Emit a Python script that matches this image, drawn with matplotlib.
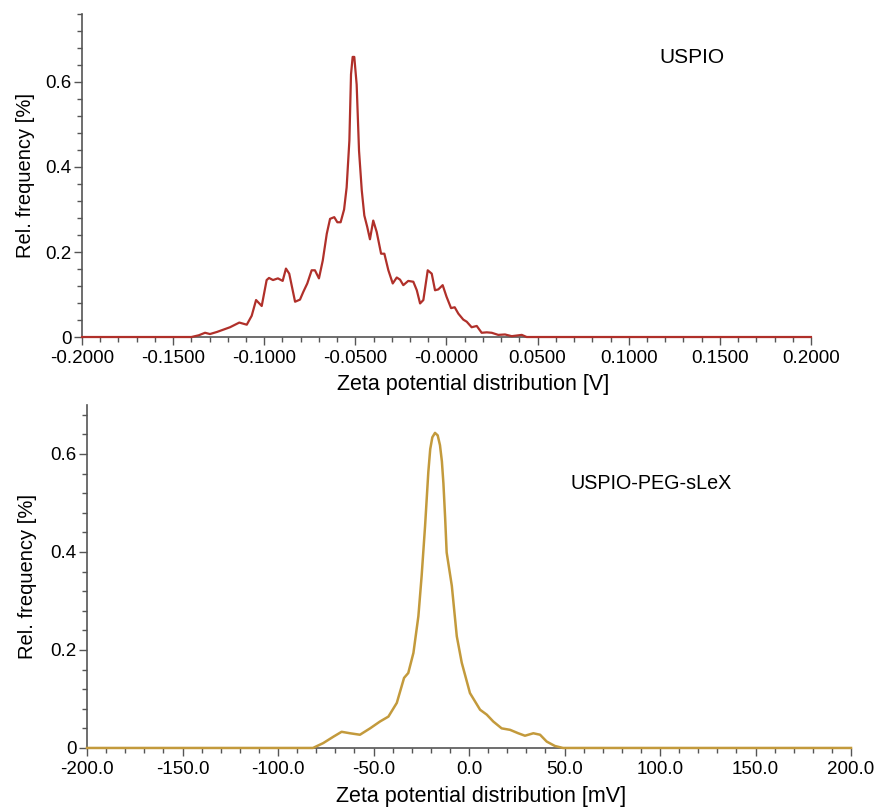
import numpy as np
import matplotlib; matplotlib.use("Agg"); import matplotlib.pyplot as plt
from matplotlib.ticker import MultipleLocator

plt.rcParams["font.family"] = ["Liberation Sans", "DejaVu Sans"]
RED = "#b0302a"; GOLD = "#c39a3c"; SPINE = "#555555"

# ---- USPIO, zeta potential in V ----
top_x = [-0.2000, -0.1400, -0.1360, -0.1325, -0.1298, -0.1259, -0.1188, -0.1137, -0.1096,
         -0.1069, -0.1045, -0.1014, -0.0987, -0.0974, -0.0952, -0.0925, -0.0899, -0.0881,
         -0.0863, -0.0831, -0.0804, -0.0786, -0.0764, -0.0740, -0.0722, -0.0700, -0.0679,
         -0.0657, -0.0639, -0.0616, -0.0599, -0.0581, -0.0562, -0.0548, -0.0533, -0.0524,
         -0.0515, -0.0506, -0.0493, -0.0480, -0.0465, -0.0451, -0.0435, -0.0420, -0.0402,
         -0.0383, -0.0359, -0.0341, -0.0319, -0.0295, -0.0273, -0.0255, -0.0237, -0.0210,
         -0.0182, -0.0163, -0.0145, -0.0127, -0.0103, -0.0081, -0.0063, -0.0045, -0.0021,
         0.0000, 0.0025, 0.0045, 0.0065, 0.0092, 0.0111, 0.0138, 0.0166, 0.0193, 0.0221,
         0.0248, 0.0284, 0.0321, 0.0358, 0.0413, 0.0440, 0.2000]
top_y = [0.000, 0.000, 0.004, 0.010, 0.007, 0.012, 0.023, 0.034, 0.029,
         0.050, 0.087, 0.073, 0.134, 0.139, 0.134, 0.138, 0.132, 0.161,
         0.149, 0.083, 0.088, 0.106, 0.126, 0.157, 0.157, 0.138, 0.180,
         0.243, 0.278, 0.282, 0.270, 0.270, 0.300, 0.352, 0.462, 0.618,
         0.659, 0.659, 0.594, 0.438, 0.345, 0.286, 0.259, 0.230, 0.274,
         0.247, 0.196, 0.196, 0.157, 0.126, 0.140, 0.135, 0.122, 0.132,
         0.130, 0.110, 0.079, 0.087, 0.157, 0.149, 0.110, 0.112, 0.122,
         0.095, 0.068, 0.070, 0.055, 0.041, 0.036, 0.023, 0.026, 0.010, 0.011,
         0.010, 0.005, 0.006, 0.002, 0.005, 0.000, 0.000]
top_ticks = [-0.2, -0.15, -0.1, -0.05, 0.0, 0.05, 0.1, 0.15, 0.2]
top_labels = ["-0.2000", "-0.1500", "-0.1000", "-0.0500", "-0.0000",
              "0.0500", "0.1000", "0.1500", "0.2000"]

# ---- USPIO-PEG-sLeX, zeta potential in mV ----
bot_x = [-200.0, -81.7, -76.3, -71.0, -66.7, -62.3, -57.1, -51.8, -46.6, -42.2, -37.8,
         -34.0, -31.8, -29.1, -26.5, -24.8, -23.0, -21.3, -20.3, -19.2, -17.8, -16.4, -15.2,
         -14.2, -13.4, -12.5, -11.7, -9.0, -6.4, -3.8, 0.5, 5.8, 9.3, 12.7, 17.1, 21.5, 25.8,
         29.3, 33.7, 37.2, 40.7, 45.0, 49.2, 200.0]
bot_y = [0.000, 0.000, 0.010, 0.023, 0.033, 0.030, 0.027, 0.040, 0.054, 0.064, 0.092,
         0.143, 0.153, 0.194, 0.269, 0.351, 0.453, 0.563, 0.610, 0.634, 0.643, 0.638, 0.618,
         0.585, 0.540, 0.470, 0.399, 0.331, 0.228, 0.174, 0.112, 0.078, 0.068, 0.054, 0.040,
         0.037, 0.030, 0.025, 0.030, 0.027, 0.013, 0.004, 0.000, 0.000]
bot_ticks = [-200, -150, -100, -50, 0, 50, 100, 150, 200]
bot_labels = ["-200.0", "-150.0", "-100.0", "-50.0", "0.0", "50.0", "100.0", "150.0", "200.0"]

fig = plt.figure(figsize=(8.86, 8.08), dpi=100)
ax1 = fig.add_axes([0.0926, 0.5829, 0.8227, 0.3998])
ax2 = fig.add_axes([0.0982, 0.0743, 0.8623, 0.4245])

def style(ax, xmin, xmax, ymax, xminor):
    for s in ["top", "right"]: ax.spines[s].set_visible(False)
    for s in ["left", "bottom"]:
        ax.spines[s].set_color(SPINE); ax.spines[s].set_linewidth(1.2)
    ax.set_xlim(xmin, xmax); ax.set_ylim(0, ymax)
    ax.xaxis.set_minor_locator(MultipleLocator(xminor))
    ax.yaxis.set_minor_locator(MultipleLocator(0.04))
    ax.set_yticks([0, 0.2, 0.4, 0.6]); ax.set_yticklabels(["0", "0.2", "0.4", "0.6"])
    ax.tick_params(which="both", direction="out", color=SPINE, width=1)
    ax.tick_params(axis="x", labelsize=13.5); ax.tick_params(axis="y", labelsize=13.5, pad=1.5)
    ax.tick_params(which="major", length=6); ax.tick_params(which="minor", length=3.5)
    ax.set_ylabel("Rel. frequency [%]", fontsize=14.5)

ax1.plot(top_x, top_y, color=RED, lw=1.6, zorder=3, clip_on=False)
style(ax1, -0.2, 0.2, 0.76, 0.01)
ax1.yaxis.set_label_coords(-0.064, 0.5)
ax1.set_xticks(top_ticks); ax1.set_xticklabels(top_labels)
ax1.set_xlabel("Zeta potential distribution [V]", fontsize=15.5)
ax1.xaxis.set_label_coords(0.536, -0.115)
ax1.text(0.837, 0.864, "USPIO", transform=ax1.transAxes, ha="center", va="center", fontsize=15)

ax2.plot(bot_x, bot_y, color=GOLD, lw=1.8, zorder=3, clip_on=False)
style(ax2, -200, 200, 0.70, 10)
ax2.yaxis.set_label_coords(-0.066, 0.5)
ax2.set_xticks(bot_ticks); ax2.set_xticklabels(bot_labels)
ax2.set_xlabel("Zeta potential distribution [mV]", fontsize=15.5)
ax2.xaxis.set_label_coords(0.516, -0.11)
ax2.text(0.739, 0.77, "USPIO-PEG-sLeX", transform=ax2.transAxes, ha="center", va="center", fontsize=14.2)

fig.savefig("out.png", dpi=100)
